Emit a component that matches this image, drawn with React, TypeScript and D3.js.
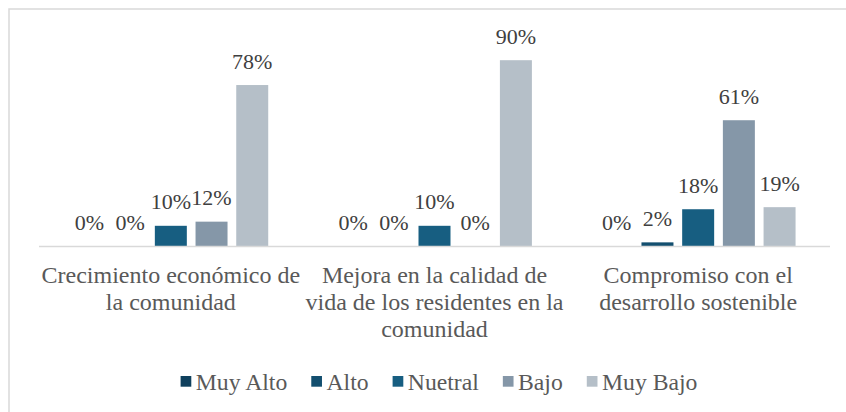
import React, { useLayoutEffect, useRef, useState } from "react";
import { scaleBand, scaleLinear, range } from "d3";

const categories = [
  ["Crecimiento económico de", "la comunidad"],
  ["Mejora en la calidad de", "vida de los residentes en la", "comunidad"],
  ["Compromiso con el", "desarrollo sostenible"],
];
const seriesNames = ["Muy Alto", "Alto", "Nuetral", "Bajo", "Muy Bajo"];
const seriesColors = ["#0f405d", "#134f6f", "#175e81", "#8597a8", "#b5bfc8"];
const valuesMuyAlto = [0, 0, 0];
const valuesAlto = [0, 0, 2];
const valuesNuetral = [10, 10, 18];
const valuesBajo = [12, 0, 61];
const valuesMuyBajo = [78, 90, 19];
const seriesValues = [valuesMuyAlto, valuesAlto, valuesNuetral, valuesBajo, valuesMuyBajo];

const W = 846;
const H = 412;
const FONT = "Liberation Serif, 'Times New Roman', Times, serif";

export default function App() {
  const baseY = 246.5;
  const x0 = scaleBand<number>().domain(range(categories.length)).range([39, 830]).padding(0);
  const innerW = 203.5;
  const x1 = scaleBand<number>().domain(range(seriesNames.length))
    .range([0, innerW]).paddingInner(0.214).paddingOuter(0.107);
  const y = scaleLinear().domain([0, 100]).range([baseY, baseY - 207]);

  const textRefs = useRef<(SVGTextElement | null)[]>([]);
  const [widths, setWidths] = useState<number[]>([93, 42, 71, 45, 95]);
  useLayoutEffect(() => {
    const w = textRefs.current.map((t, i) => (t ? t.getComputedTextLength() : widths[i]));
    setWidths(w);
  }, []);

  const sq = 10.7;
  const gapText = 4.5;
  const gapItem = 24;
  const starts: number[] = [];
  let cursor = 0;
  widths.forEach((w) => {
    starts.push(cursor);
    cursor += sq + gapText + w + gapItem;
  });
  const total = cursor - gapItem;
  const legendX = 439 - total / 2;
  const ts = (size: number, fill: string) => ({ fontFamily: FONT, fontSize: `${size}px`, fill });

  return (
    <svg width={W} height={H} fontFamily={FONT}
      style={{ position: "absolute", left: 0, top: 0, display: "block", fontFamily: FONT }}>
      <rect width={W} height={H} fill="#fff" />
      <rect x={9} y={9} width={W + 20} height={H + 20} fill="none" stroke="#d9d9d9" strokeWidth={1.5} />
      {categories.map((_, ci) => {
        const gx = x0(ci)! + (x0.bandwidth() - innerW) / 2;
        return (
          <g key={ci} transform={`translate(${gx},0)`}>
            {seriesValues.map((vals, si) => {
              const v = vals[ci];
              return (
                <g key={si}>
                  {v > 0 && (
                    <rect x={x1(si)!} width={x1.bandwidth()} y={y(v)} height={baseY - y(v)} fill={seriesColors[si]} />
                  )}
                  <text x={x1(si)! + x1.bandwidth() / 2} y={y(v) - 16.5} textAnchor="middle"
                    fontFamily={FONT} fontSize={22} fill="#404040" style={ts(22, "#404040")}>{`${v}%`}</text>
                </g>
              );
            })}
          </g>
        );
      })}
      <line x1={39} x2={830} y1={baseY} y2={baseY} stroke="#d9d9d9" strokeWidth={1.5} />
      {categories.map((lines, ci) => {
        const cx = x0(ci)! + x0.bandwidth() / 2;
        return lines.map((ln, li) => (
          <text key={`${ci}-${li}`} x={cx} y={283 + li * 27} textAnchor="middle"
            fontFamily={FONT} fontSize={24} fill="#595959" style={ts(24, "#595959")}>{ln}</text>
        ));
      })}
      <g transform={`translate(${legendX},0)`}>
        {seriesNames.map((name, si) => (
          <g key={name}>
            <rect x={starts[si]} y={376} width={sq} height={sq} fill={seriesColors[si]} />
            <text ref={(el) => { textRefs.current[si] = el; }} x={starts[si] + sq + gapText} y={390}
              fontFamily={FONT} fontSize={23.7} fill="#595959" style={ts(23.7, "#595959")}>{name}</text>
          </g>
        ))}
      </g>
    </svg>
  );
}
